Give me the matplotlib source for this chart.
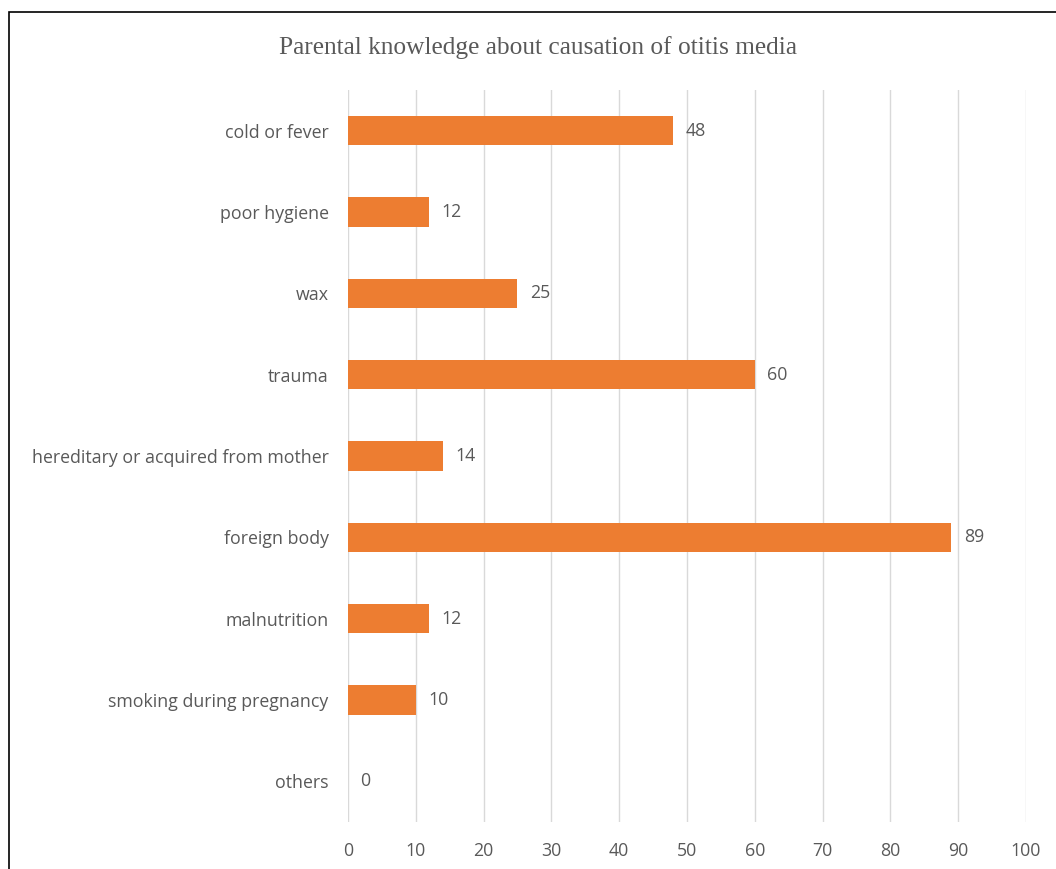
import matplotlib
matplotlib.use("Agg")
import matplotlib.pyplot as plt
from matplotlib.patches import Rectangle

# ── Data ───────────────────────────────────────────────────────────────────────
CATEGORIES = [
    "cold or fever",
    "poor hygiene",
    "wax",
    "trauma",
    "hereditary or acquired from mother",
    "foreign body",
    "malnutrition",
    "smoking during pregnancy",
    "others",
]
VALUES = [48, 12, 25, 60, 14, 89, 12, 10, 0]
X_TICKS = [0, 10, 20, 30, 40, 50, 60, 70, 80, 90, 100]
TITLE = "Parental knowledge about causation of otitis media"

BAR_COLOR = "#ED7D31"
TEXT_COLOR = "#595959"
GRID_COLOR = "#D9D9D9"
LABEL_FONT = ["Open Sans", "DejaVu Sans"]


def main():
    fig = plt.figure(figsize=(10.56, 8.69), dpi=100)
    ax = fig.add_axes([0.3295, 0.054, 0.642, 0.8426])

    ypos = list(range(len(CATEGORIES)))
    ax.barh(ypos, VALUES, height=0.36, color=BAR_COLOR, zorder=3)

    for y, v in zip(ypos, VALUES):
        ax.annotate(f"{v}", xy=(v, y), xytext=(9, 0), textcoords="offset points",
                    ha="left", va="center", fontsize=12.8, color=TEXT_COLOR,
                    family=LABEL_FONT)

    ax.set_xlim(0, 100)
    ax.set_ylim(len(CATEGORIES) - 0.5, -0.5)
    ax.set_xticks(X_TICKS)
    ax.set_xticklabels([str(t) for t in X_TICKS], fontsize=12.8,
                       color=TEXT_COLOR, family=LABEL_FONT)
    ax.set_yticks(ypos)
    ax.set_yticklabels(CATEGORIES, fontsize=12.8, color=TEXT_COLOR,
                       family=LABEL_FONT)
    ax.tick_params(axis="both", length=0)
    ax.tick_params(axis="x", pad=14)
    ax.tick_params(axis="y", pad=14)

    ax.xaxis.grid(True, color=GRID_COLOR, linewidth=1.0, zorder=0)
    ax.set_axisbelow(True)
    for s in ax.spines.values():
        s.set_visible(False)

    fig.text(0.509, 0.945, TITLE, ha="center", va="center", fontsize=18.3,
             color=TEXT_COLOR, family="Liberation Serif")

    # outer border (cropped frame)
    fig.patches.append(Rectangle((9 / 1056, -0.1), 2.0, 1.1 - 12 / 869,
                                 transform=fig.transFigure, fill=False,
                                 edgecolor="black", linewidth=1.2))

    fig.savefig("out.png", dpi=100)


if __name__ == "__main__":
    main()
